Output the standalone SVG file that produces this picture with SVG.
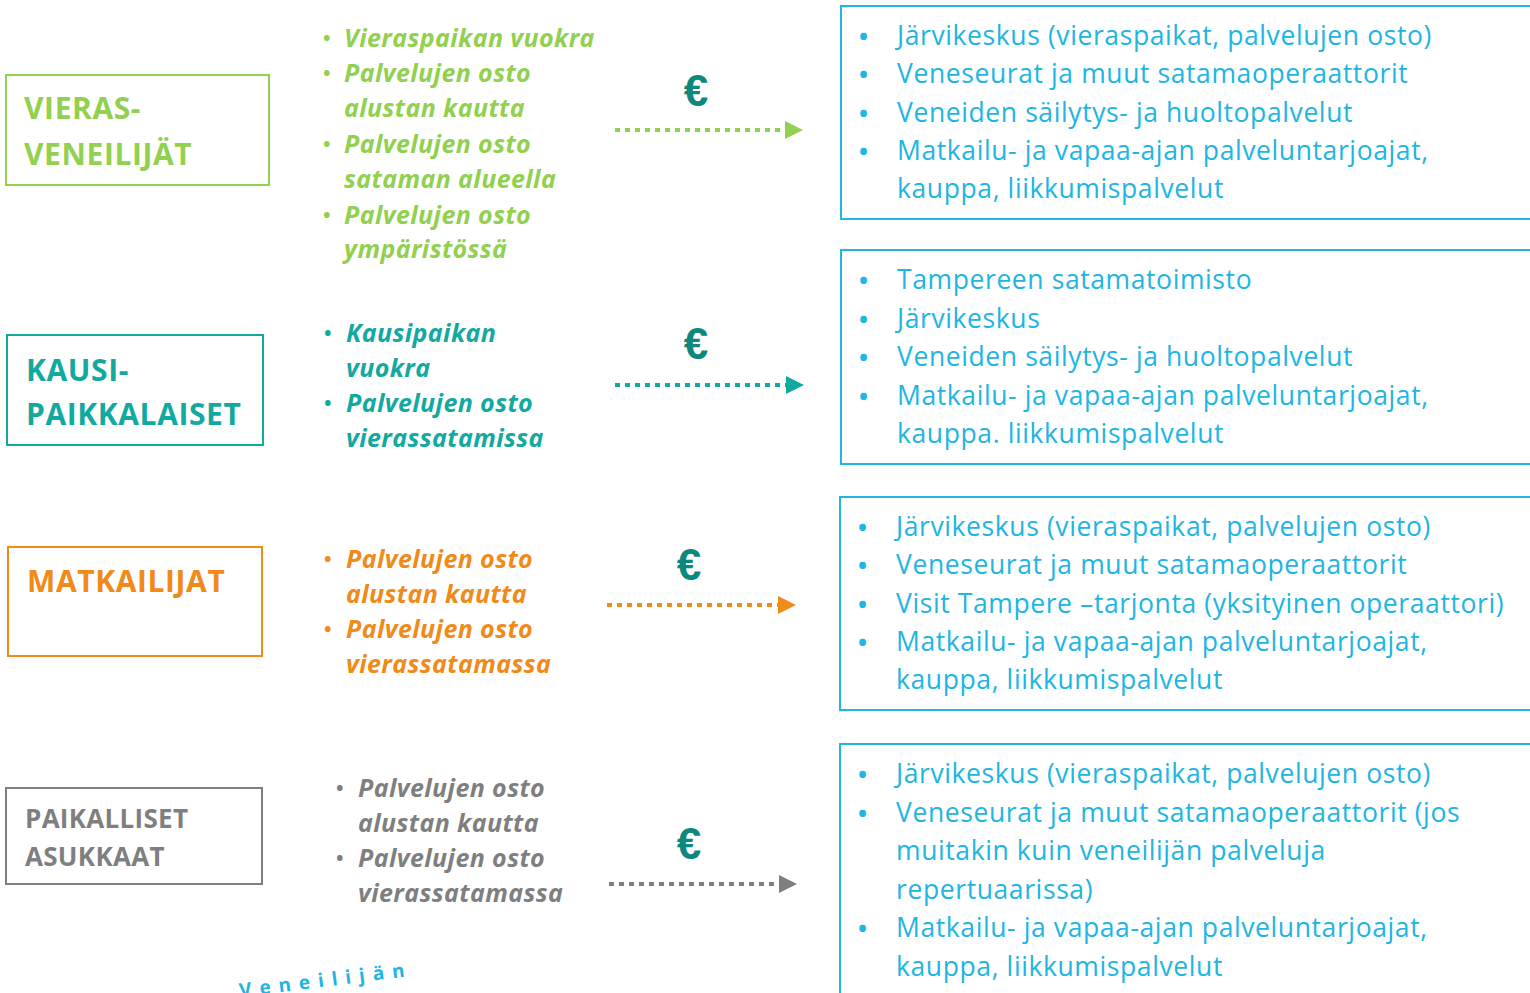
<svg xmlns="http://www.w3.org/2000/svg" width="1530" height="993" viewBox="0 0 1530 993">
<defs>
<style>
.bg{fill:#ffffff}
.box{fill:none;stroke-width:2}
.head{font-family:"Open Sans","Liberation Sans",sans-serif;font-weight:bold;font-size:30px;letter-spacing:0.6px}
.mid{font-family:"Open Sans","Liberation Sans",sans-serif;font-weight:bold;font-style:italic;font-size:25px;letter-spacing:0.4px}
.bul{font-family:"Open Sans","Liberation Sans",sans-serif;font-size:20px;font-weight:bold;font-style:normal}
.right{font-family:"Open Sans","Liberation Sans",sans-serif;font-size:26.5px;letter-spacing:0.6px;fill:#20B5E2}
.rb{font-family:"Open Sans","Liberation Sans",sans-serif;font-size:24px;font-weight:bold;fill:#20B5E2}
.euro{font-family:"Liberation Sans",sans-serif;font-weight:bold;font-size:44px;fill:#0E877D}
.dots{fill:none;stroke-width:4;stroke-dasharray:5 5}
.green{fill:#92D050;stroke:#92D050}
.teal{fill:#12A9A0;stroke:#12A9A0}
.orange{fill:#F08A18;stroke:#F08A18}
.gray{fill:#7F7F7F;stroke:#7F7F7F}
.blue{stroke:#20B5E2}
text.green,text.teal,text.orange,text.gray{stroke:none}
</style>
<marker id="ahG" viewBox="0 0 10 10" refX="0" refY="5" markerWidth="4.5" markerHeight="4.5" orient="auto" markerUnits="strokeWidth"><path d="M0,0 L10,5 L0,10 z" fill="#92D050"/></marker>
<marker id="ahT" viewBox="0 0 10 10" refX="0" refY="5" markerWidth="4.5" markerHeight="4.5" orient="auto" markerUnits="strokeWidth"><path d="M0,0 L10,5 L0,10 z" fill="#12A9A0"/></marker>
<marker id="ahO" viewBox="0 0 10 10" refX="0" refY="5" markerWidth="4.5" markerHeight="4.5" orient="auto" markerUnits="strokeWidth"><path d="M0,0 L10,5 L0,10 z" fill="#F08A18"/></marker>
<marker id="ahY" viewBox="0 0 10 10" refX="0" refY="5" markerWidth="4.5" markerHeight="4.5" orient="auto" markerUnits="strokeWidth"><path d="M0,0 L10,5 L0,10 z" fill="#7F7F7F"/></marker>
</defs>
<rect class="bg" x="0" y="0" width="1530" height="993"/>

<g id="node-vierasveneilijat">
<rect class="box green" style="fill:none" x="6" y="75" width="263" height="110"/>
<text class="head green" x="24" y="119">VIERAS-</text>
<text class="head green" x="24" y="165">VENEILIJÄT</text>
</g>

<g id="node-kausipaikkalaiset">
<rect class="box teal" style="fill:none" x="7" y="335" width="256" height="110"/>
<text class="head teal" x="26" y="381">KAUSI-</text>
<text class="head teal" x="26" y="425">PAIKKALAISET</text>
</g>

<g id="node-matkailijat">
<rect class="box orange" style="fill:none" x="8" y="547" width="254" height="109"/>
<text class="head orange" x="27" y="592">MATKAILIJAT</text>
</g>

<g id="node-paikalliset">
<rect class="box gray" style="fill:none" x="6" y="788" width="256" height="96"/>
<text class="head gray" style="font-size:26px;letter-spacing:0.3px" x="25" y="828">PAIKALLISET</text>
<text class="head gray" style="font-size:26px;letter-spacing:0.3px" x="25" y="866">ASUKKAAT</text>
</g>

<g id="list-vierasveneilijat" class="mid">
<text class="bul green" x="323" y="45">•</text><text class="green" x="344" y="47">Vieraspaikan vuokra</text>
<text class="bul green" x="323" y="80">•</text><text class="green" x="344" y="82">Palvelujen osto</text>
<text class="green" x="344" y="117">alustan kautta</text>
<text class="bul green" x="323" y="151">•</text><text class="green" x="344" y="153">Palvelujen osto</text>
<text class="green" x="344" y="188">sataman alueella</text>
<text class="bul green" x="323" y="222">•</text><text class="green" x="344" y="224">Palvelujen osto</text>
<text class="green" x="344" y="258">ympäristössä</text>
</g>

<g id="list-kausipaikkalaiset" class="mid">
<text class="bul teal" x="324" y="340">•</text><text class="teal" x="346" y="342">Kausipaikan</text>
<text class="teal" x="346" y="377">vuokra</text>
<text class="bul teal" x="324" y="410">•</text><text class="teal" x="346" y="412">Palvelujen osto</text>
<text class="teal" x="346" y="447">vierassatamissa</text>
</g>

<g id="list-matkailijat" class="mid">
<text class="bul orange" x="324" y="566">•</text><text class="orange" x="346" y="568">Palvelujen osto</text>
<text class="orange" x="346" y="603">alustan kautta</text>
<text class="bul orange" x="324" y="636">•</text><text class="orange" x="346" y="638">Palvelujen osto</text>
<text class="orange" x="346" y="673">vierassatamassa</text>
</g>

<g id="list-paikalliset" class="mid">
<text class="bul gray" x="336" y="795">•</text><text class="gray" x="358" y="797">Palvelujen osto</text>
<text class="gray" x="358" y="832">alustan kautta</text>
<text class="bul gray" x="336" y="865">•</text><text class="gray" x="358" y="867">Palvelujen osto</text>
<text class="gray" x="358" y="902">vierassatamassa</text>
</g>

<g id="euros">
<text class="euro" x="696" y="106" text-anchor="middle">€</text>
<text class="euro" x="696" y="359" text-anchor="middle">€</text>
<text class="euro" x="689" y="580" text-anchor="middle">€</text>
<text class="euro" x="689" y="859" text-anchor="middle">€</text>
</g>

<g id="connectors">
<line class="dots green" x1="615" y1="130" x2="785" y2="130" marker-end="url(#ahG)"/>
<line class="dots teal" x1="615" y1="385" x2="786" y2="385" marker-end="url(#ahT)"/>
<line class="dots orange" x1="607" y1="605" x2="778" y2="605" marker-end="url(#ahO)"/>
<line class="dots gray" x1="609" y1="884" x2="779" y2="884" marker-end="url(#ahY)"/>
</g>

<g id="node-providers-1">
<rect class="box blue" x="841" y="6" width="700" height="213"/>
<text class="rb" x="859" y="45">•</text><text class="right" x="897" y="45">Järvikeskus (vieraspaikat, palvelujen osto)</text>
<text class="rb" x="859" y="83">•</text><text class="right" x="897" y="83">Veneseurat ja muut satamaoperaattorit</text>
<text class="rb" x="859" y="122">•</text><text class="right" x="897" y="122">Veneiden säilytys- ja huoltopalvelut</text>
<text class="rb" x="859" y="160">•</text><text class="right" x="897" y="160">Matkailu- ja vapaa-ajan palveluntarjoajat,</text>
<text class="right" x="897" y="198">kauppa, liikkumispalvelut</text>
</g>

<g id="node-providers-2">
<rect class="box blue" x="841" y="250" width="700" height="214"/>
<text class="rb" x="859" y="289">•</text><text class="right" x="897" y="289">Tampereen satamatoimisto</text>
<text class="rb" x="859" y="328">•</text><text class="right" x="897" y="328">Järvikeskus</text>
<text class="rb" x="859" y="366">•</text><text class="right" x="897" y="366">Veneiden säilytys- ja huoltopalvelut</text>
<text class="rb" x="859" y="405">•</text><text class="right" x="897" y="405">Matkailu- ja vapaa-ajan palveluntarjoajat,</text>
<text class="right" x="897" y="443">kauppa. liikkumispalvelut</text>
</g>

<g id="node-providers-3">
<rect class="box blue" x="840" y="497" width="700" height="213"/>
<text class="rb" x="858" y="536">•</text><text class="right" x="896" y="536">Järvikeskus (vieraspaikat, palvelujen osto)</text>
<text class="rb" x="858" y="574">•</text><text class="right" x="896" y="574">Veneseurat ja muut satamaoperaattorit</text>
<text class="rb" x="858" y="613">•</text><text class="right" x="896" y="613">Visit Tampere –tarjonta (yksityinen operaattori)</text>
<text class="rb" x="858" y="651">•</text><text class="right" x="896" y="651">Matkailu- ja vapaa-ajan palveluntarjoajat,</text>
<text class="right" x="896" y="689">kauppa, liikkumispalvelut</text>
</g>

<g id="node-providers-4">
<rect class="box blue" x="840" y="744" width="700" height="260"/>
<text class="rb" x="858" y="783">•</text><text class="right" x="896" y="783">Järvikeskus (vieraspaikat, palvelujen osto)</text>
<text class="rb" x="858" y="822">•</text><text class="right" x="896" y="822">Veneseurat ja muut satamaoperaattorit (jos</text>
<text class="right" x="896" y="860">muitakin kuin veneilijän palveluja</text>
<text class="right" x="896" y="899">repertuaarissa)</text>
<text class="rb" x="858" y="937">•</text><text class="right" x="896" y="937">Matkailu- ja vapaa-ajan palveluntarjoajat,</text>
<text class="right" x="896" y="976">kauppa, liikkumispalvelut</text>
</g>

<g id="label-veneilijan">
<text x="240" y="997" transform="rotate(-7 240 997)" style="font-family:'Open Sans','Liberation Sans',sans-serif;font-weight:bold;font-size:19px;letter-spacing:8px;fill:#20B5E2">Veneilijän</text>
</g>
</svg>
